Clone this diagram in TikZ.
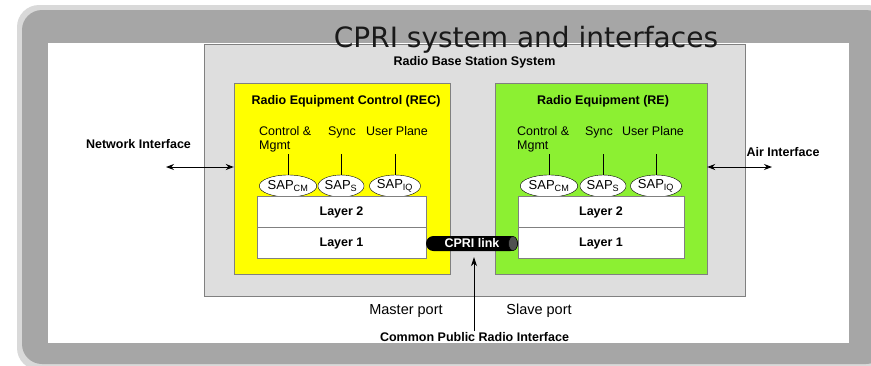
\documentclass[tikz,border=0pt]{standalone}
\usepackage{fontspec}
\setmainfont{Liberation Sans}
\newfontfamily\dvfont{DejaVu Sans}
\usetikzlibrary{shapes.geometric,arrows.meta}
\definecolor{framelight}{HTML}{D9D9D9}
\definecolor{framedark}{HTML}{A6A6A6}
\definecolor{rbsfill}{HTML}{DEDEDE}
\definecolor{boxline}{HTML}{808080}
\definecolor{recyellow}{HTML}{FFFF00}
\definecolor{regreen}{HTML}{8CF032}
\definecolor{capgray}{HTML}{505050}
\begin{document}
\begin{tikzpicture}[x=1pt,y=-1pt,
  txt/.style={font=\fontsize{12.5}{14}\selectfont, inner sep=0pt},
  btxt/.style={font=\fontsize{12.5}{14}\selectfont\bfseries, inner sep=0pt},
  porttxt/.style={font=\fontsize{14.5}{16}\selectfont, inner sep=0pt},
  sap/.style={ellipse, draw=black, fill=white, minimum width=46pt, minimum height=22pt, inner sep=0pt, font=\fontsize{13}{14}\selectfont},
  layerbox/.style={draw=boxline, fill=white, minimum height=31pt, inner sep=0pt, font=\fontsize{12.5}{14}\selectfont\bfseries},
  unitbox/.style={draw=boxline, inner sep=0pt},
  dblarrow/.style={{Stealth[length=8pt,width=6pt]}-{Stealth[length=8pt,width=6pt]}, line width=1pt},
  uparrow/.style={-{Stealth[length=9pt,width=6pt]}, line width=0.8pt},
  stem/.style={line width=0.7pt}
]
\useasboundingbox (0,0) rectangle (871,365);
\begin{scope}
\clip (0,0) rectangle (871,365);
\fill[framelight, rounded corners=22pt] (17,5) rectangle (890,370);
\fill[framedark, rounded corners=20pt] (22,10) rectangle (886,364);
\fill[white] (48,43) rectangle (849,343);
\end{scope}

% Radio Base Station System
\node[unitbox, fill=rbsfill, minimum width=541pt, minimum height=252pt] (rbs) at (474.5,170) {};
\node[btxt] (rbst) at (474.5,62) {Radio Base Station System};

% REC
\node[unitbox, fill=recyellow, minimum width=216pt, minimum height=191pt] (rec) at (342,178.5) {};
\node[btxt] (rect) at (346,101) {Radio Equipment Control (REC)};
\node[txt, align=left, anchor=north west] (cm1) at (259,126) {Control \&\\Mgmt};
\node[txt, anchor=base] (sy1) at (342,135) {Sync};
\node[txt, anchor=base] (up1) at (397,135) {User Plane};
\node[sap] (sapcm1) at (288,186) {SAP\textsubscript{CM}};
\node[sap] (saps1) at (341,186) {SAP\textsubscript{S}};
\node[sap] (sapiq1) at (395,186) {SAP\textsubscript{IQ}};
\coordinate (s1a) at (288,154);
\coordinate (s1b) at (341,154);
\coordinate (s1c) at (395,154);
\draw[stem] (s1a) -- (sapcm1.north);
\draw[stem] (s1b) -- (saps1.north);
\draw[stem] (s1c) -- (sapiq1.north);
\node[layerbox, minimum width=169pt] (l2a) at (341.5,212) {Layer 2};
\node[layerbox, minimum width=169pt] (l1a) at (341.5,243) {Layer 1};

% RE
\node[unitbox, fill=regreen, minimum width=212pt, minimum height=191pt] (re) at (601,178.5) {};
\node[btxt] (ret) at (603,101) {Radio Equipment (RE)};
\node[txt, align=left, anchor=north west] (cm2) at (517,126) {Control \&\\Mgmt};
\node[txt, anchor=base] (sy2) at (599,135) {Sync};
\node[txt, anchor=base] (up2) at (653,135) {User Plane};
\node[sap] (sapcm2) at (549,186) {SAP\textsubscript{CM}};
\node[sap] (saps2) at (603,186) {SAP\textsubscript{S}};
\node[sap] (sapiq2) at (656,186) {SAP\textsubscript{IQ}};
\coordinate (s2a) at (549,154);
\coordinate (s2b) at (603,154);
\coordinate (s2c) at (656,154);
\draw[stem] (s2a) -- (sapcm2.north);
\draw[stem] (s2b) -- (saps2.north);
\draw[stem] (s2c) -- (sapiq2.north);
\node[layerbox, minimum width=166pt] (l2b) at (601,212) {Layer 2};
\node[layerbox, minimum width=166pt] (l1b) at (601,243) {Layer 1};

% CPRI link
\node[fill=black, rounded corners=7.5pt, minimum width=92pt, minimum height=15pt, inner sep=0pt, text=white, font=\fontsize{12.5}{14}\selectfont\bfseries] (link) at (472,243.5) {CPRI link};
\filldraw[fill=capgray, draw=black, line width=0.5pt] (513,243.5) ellipse [x radius=4.5pt, y radius=7pt];

% Interfaces
\node[btxt] (nit) at (138.5,144) {Network Interface};
\coordinate (nia) at (166,167);
\draw[dblarrow] (nia) -- (nia -| rec.west);
\node[btxt] (ait) at (783,152) {Air Interface};
\coordinate (aia) at (772,167);
\draw[dblarrow] (re.east |- aia) -- (aia);

% CPRI arrow and ports
\coordinate (cpb) at (474,331);
\draw[uparrow, shorten >=6pt] (cpb) -- (cpb |- link.south);
\node[porttxt, anchor=base] (mp) at (406,314) {Master port};
\node[porttxt, anchor=base] (sp) at (539,314) {Slave port};
\node[btxt, anchor=base] (cpri) at (474.5,341) {Common Public Radio Interface};

% Title
\node[font=\dvfont\fontsize{28}{30}\selectfont, anchor=base, inner sep=0pt, text=black!90] (title) at (526,47) {CPRI system and interfaces};
\end{tikzpicture}
\end{document}
